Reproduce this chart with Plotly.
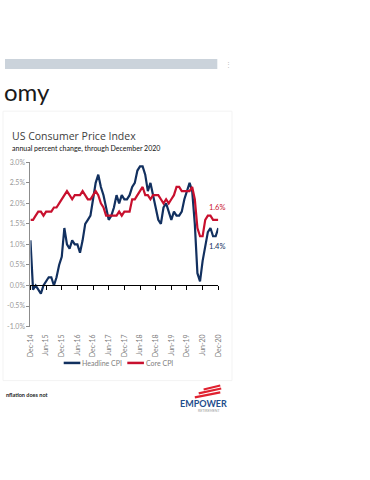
import plotly.graph_objects as go
import pandas as pd

# ---------------- data ----------------
months = list(pd.date_range("2014-12-01", "2020-12-01", freq="MS").strftime("%b-%y"))

headline_cpi = [1.1,
                -0.1, 0.0, -0.1, -0.2, 0.0, 0.1, 0.2, 0.2, 0.0, 0.2, 0.5, 0.7,
                1.4, 1.0, 0.9, 1.1, 1.0, 1.0, 0.8, 1.1, 1.5, 1.6, 1.7, 2.1,
                2.5, 2.7, 2.4, 2.2, 1.9, 1.6, 1.7, 1.9, 2.2, 2.0, 2.2, 2.1,
                2.1, 2.2, 2.4, 2.5, 2.8, 2.9, 2.9, 2.7, 2.3, 2.5, 2.2, 1.9,
                1.6, 1.5, 1.9, 2.0, 1.8, 1.6, 1.8, 1.7, 1.7, 1.8, 2.1, 2.3,
                2.5, 2.3, 1.5, 0.3, 0.1, 0.6, 1.0, 1.3, 1.4, 1.2, 1.2, 1.4]

core_cpi = [1.6,
            1.6, 1.7, 1.8, 1.8, 1.7, 1.8, 1.8, 1.8, 1.9, 1.9, 2.0, 2.1,
            2.2, 2.3, 2.2, 2.1, 2.2, 2.2, 2.2, 2.3, 2.2, 2.1, 2.1, 2.2,
            2.3, 2.2, 2.0, 1.9, 1.7, 1.7, 1.7, 1.7, 1.7, 1.8, 1.7, 1.8,
            1.8, 1.8, 2.1, 2.1, 2.2, 2.3, 2.4, 2.2, 2.2, 2.1, 2.2, 2.2,
            2.2, 2.1, 2.0, 2.1, 2.0, 2.1, 2.2, 2.4, 2.4, 2.3, 2.3, 2.3,
            2.3, 2.4, 2.1, 1.4, 1.2, 1.2, 1.6, 1.7, 1.7, 1.6, 1.6, 1.6]

x_tick_labels = ["Dec-14", "Jun-15", "Dec-15", "Jun-16", "Dec-16", "Jun-17", "Dec-17",
                 "Jun-18", "Dec-18", "Jun-19", "Dec-19", "Jun-20", "Dec-20"]
y_tick_values = [-1.0, -0.5, 0.0, 0.5, 1.0, 1.5, 2.0, 2.5, 3.0]
y_tick_text = ["-1.0%", "-0.5%", "0.0%", "0.5%", "1.0%", "1.5%", "2.0%", "2.5%", "3.0%"]
series_names = ["Headline CPI", "Core CPI"]
end_labels = ["1.4%", "1.6%"]

# ---------------- styling ----------------
W, H = 370, 480
NAVY = "#12305f"
RED = "#c8102e"
GRAY = "#808080"
FONT = "Lato"


def px(x):
    return x / W


def py(y):
    return 1 - y / H


fig = go.Figure()
fig.add_trace(go.Scatter(x=months, y=headline_cpi, mode="lines", name=series_names[0],
                         line=dict(color=NAVY, width=2.2), showlegend=False, xaxis="x", yaxis="y"))
fig.add_trace(go.Scatter(x=months, y=core_cpi, mode="lines", name=series_names[1],
                         line=dict(color=RED, width=2.2), showlegend=False, xaxis="x", yaxis="y"))
# invisible carrier for the zero-line axis with tick marks
fig.add_trace(go.Scatter(x=months, y=core_cpi, mode="lines", line=dict(width=0),
                         opacity=0, hoverinfo="skip", showlegend=False, xaxis="x2", yaxis="y"))

dom_x = [px(26), px(218)]
fig.update_layout(
    width=W, height=H,
    margin=dict(l=0, r=0, t=0, b=0),
    paper_bgcolor="white", plot_bgcolor="white",
    font=dict(family=FONT, color=GRAY),
    xaxis=dict(type="category", domain=dom_x, range=[0, len(months) - 1],
               tickmode="array", tickvals=x_tick_labels, ticktext=x_tick_labels,
               tickangle=-90, ticks="outside", ticklen=4, tickcolor="rgba(0,0,0,0)",
               showline=False, showgrid=False, zeroline=False,
               tickfont=dict(size=7, color=GRAY, family=FONT), anchor="y"),
    xaxis2=dict(type="category", domain=dom_x, range=[0, len(months) - 1],
                overlaying="x", anchor="free", position=py(285),
                tickmode="array", tickvals=x_tick_labels, showticklabels=False,
                ticks="outside", ticklen=4, tickcolor="black", tickwidth=1,
                showline=True, linecolor="black", linewidth=1, showgrid=False, zeroline=False),
    yaxis=dict(domain=[py(327), py(160)], range=[-1.0, 3.0],
               tickmode="array", tickvals=y_tick_values, ticktext=y_tick_text,
               ticks="outside", ticklen=3, tickcolor="#8c8c8c",
               showline=True, linecolor="#8c8c8c", linewidth=1,
               showgrid=False, zeroline=False,
               tickfont=dict(size=7, color="#999999", family=FONT)),
)

shapes = [
    dict(type="rect", xref="paper", yref="paper", x0=0, x1=px(217), y0=py(65), y1=py(55),
         fillcolor="#cbd3db", line=dict(width=0), layer="below"),
    dict(type="rect", xref="paper", yref="paper", x0=px(-2), x1=px(232), y0=py(382), y1=py(108),
         fillcolor="rgba(0,0,0,0)", line=dict(color="#f3f3f3", width=1), layer="below"),
    # manual legend keys
    dict(type="line", xref="paper", yref="paper", x0=px(60), x1=px(77), y0=py(364), y1=py(364),
         line=dict(color=NAVY, width=2.5)),
    dict(type="line", xref="paper", yref="paper", x0=px(125), x1=px(142), y0=py(364), y1=py(364),
         line=dict(color=RED, width=2.5)),
    # logo stripes
    dict(type="line", xref="paper", yref="paper", x0=px(203), x1=px(220), y0=py(391), y1=py(387),
         line=dict(color="#e0212f", width=2.2)),
    dict(type="line", xref="paper", yref="paper", x0=px(198), x1=px(221), y0=py(395), y1=py(390),
         line=dict(color="#e0212f", width=2.2)),
    dict(type="line", xref="paper", yref="paper", x0=px(194), x1=px(220), y0=py(399), y1=py(394),
         line=dict(color="#e0212f", width=2.2)),
]
fig.update_layout(shapes=shapes)

ann = [
    dict(text="omy", x=px(-3), y=py(88), xanchor="left", yanchor="middle",
         font=dict(size=24, color="#1a1a1a", family=FONT)),
    dict(text="⋮", x=px(228), y=py(60), xanchor="center", yanchor="middle",
         font=dict(size=7, color="#c0c0c0", family=FONT)),
    dict(text="US Consumer Price Index", x=px(5), y=py(133), xanchor="left", yanchor="middle",
         font=dict(size=10.5, color="#404040", family="Open Sans")),
    dict(text="annual percent change, through December 2020", x=px(5), y=py(146),
         xanchor="left", yanchor="middle",
         font=dict(size=7, color="#111111", family=FONT)),
    dict(text=end_labels[1], x=px(217), y=py(206), xanchor="center", yanchor="middle",
         font=dict(size=7.5, color=RED, family=FONT)),
    dict(text=end_labels[0], x=px(217), y=py(246), xanchor="center", yanchor="middle",
         font=dict(size=7.5, color=NAVY, family=FONT)),
    dict(text=series_names[0], x=px(77), y=py(364), xanchor="left", yanchor="middle",
         font=dict(size=7, color=GRAY, family=FONT)),
    dict(text=series_names[1], x=px(142), y=py(364), xanchor="left", yanchor="middle",
         font=dict(size=7, color=GRAY, family=FONT)),
    dict(text="<b>nflation does not</b>", x=px(-1), y=py(397), xanchor="left", yanchor="middle",
         font=dict(size=5.5, color="#222222", family=FONT)),
    dict(text="<b>EMPOWER</b>", x=px(203), y=py(405), xanchor="center", yanchor="middle",
         font=dict(size=9, color="#1f4e8c", family=FONT)),
    dict(text="RETIREMENT", x=px(208), y=py(413), xanchor="center", yanchor="middle",
         font=dict(size=3.5, color="#9a9a9a", family=FONT)),
]
for a in ann:
    a.update(xref="paper", yref="paper", showarrow=False)
fig.update_layout(annotations=ann)

fig.write_html(
    "out.html",
    config={"displayModeBar": False},
    post_script=("document.body.style.margin='0';document.body.style.overflow='hidden';"
                 "var d=document.getElementById('{plot_id}');"
                 "d.style.position='fixed';d.style.left='0px';d.style.top='0px';"),
)
